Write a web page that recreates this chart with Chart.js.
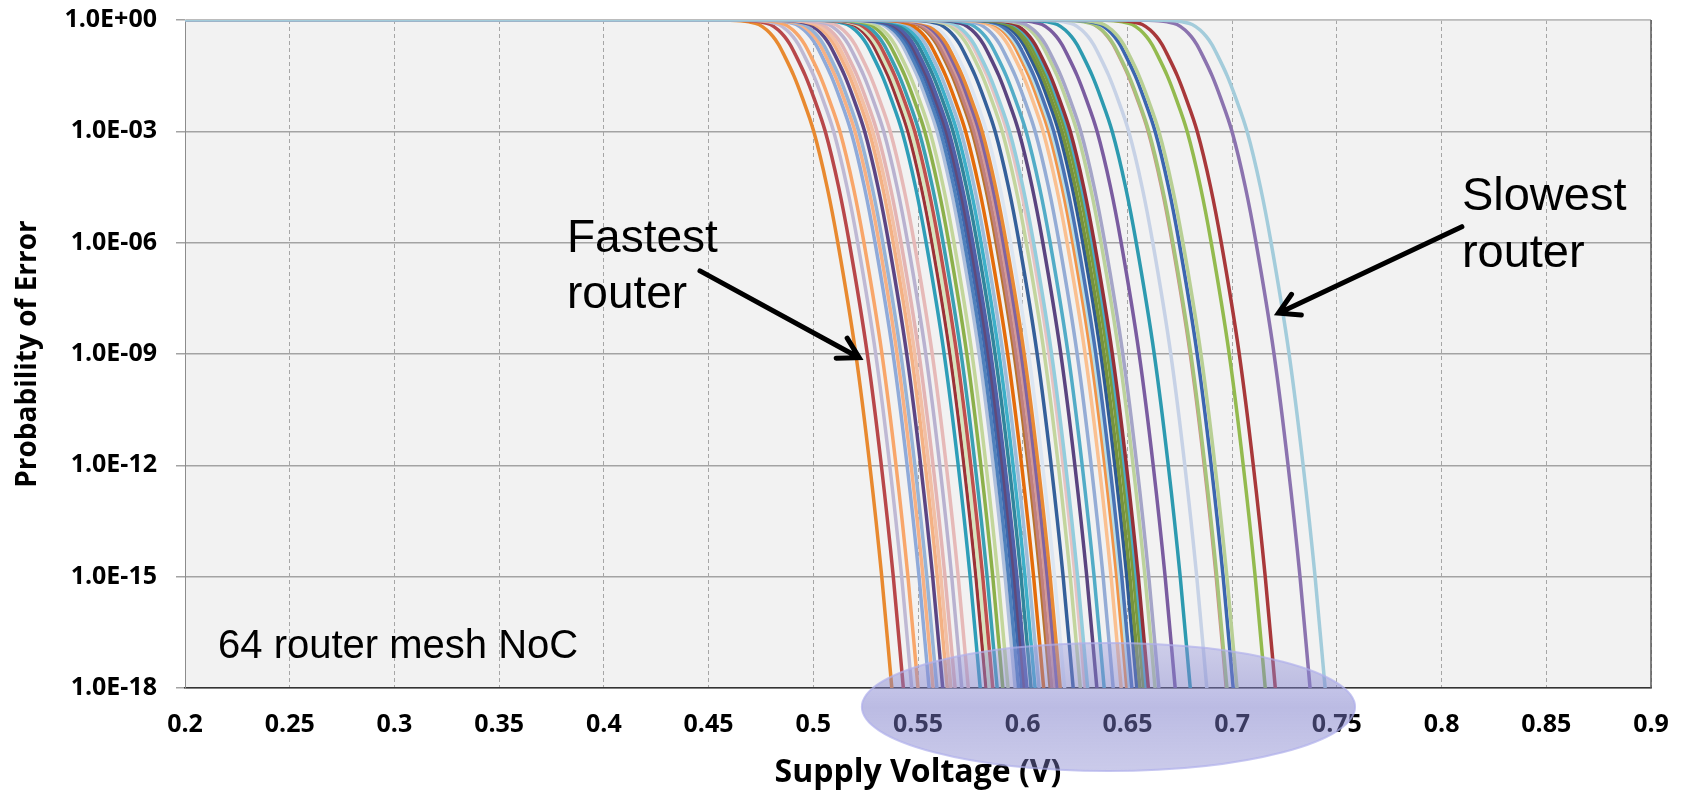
<!DOCTYPE html>
<html>
<head>
<meta charset="utf-8">
<title>Probability of Error vs Supply Voltage</title>
<script src="https://cdn.jsdelivr.net/npm/chart.js@4.4.1/dist/chart.umd.min.js"></script>
<style>
    html, body { margin: 0; padding: 0; background: #ffffff; }
    #wrap { width: 1684px; height: 795px; }
</style>
</head>
<body>
<div id="wrap"><canvas id="errorChart" width="1684" height="795"></canvas></div>
<script>
// axis ticks
const xTicks = [0.2, 0.25, 0.3, 0.35, 0.4, 0.45, 0.5, 0.55, 0.6, 0.65, 0.7, 0.75, 0.8, 0.85, 0.9];
const xTickLabels = ['0.2', '0.25', '0.3', '0.35', '0.4', '0.45', '0.5', '0.55', '0.6', '0.65', '0.7', '0.75', '0.8', '0.85', '0.9'];
const yTicks = [1e0, 1e-3, 1e-6, 1e-9, 1e-12, 1e-15, 1e-18];
const yTickLabels = ['1.0E+00', '1.0E-03', '1.0E-06', '1.0E-09', '1.0E-12', '1.0E-15', '1.0E-18'];

// fastest router curve (log10 of the error probability)
const fastestVoltage = [0.452, 0.460, 0.465, 0.469, 0.4737, 0.4775, 0.4805, 0.4830, 0.4858, 0.4904, 0.4945, 0.4999, 0.5063, 0.5114, 0.5200, 0.5267, 0.5324, 0.5372, 0.5405];
const fastestLogP    = [0, -0.005, -0.02, -0.05, -0.12, -0.27, -0.45, -0.65, -0.95, -1.5, -2.1, -3, -4.5, -6, -9, -12, -15, -18, -20];

// voltage where each of the 64 routers reaches 1E-18 (fastest first)
const crossAt18 = [
    0.5375, 0.5430, 0.5470, 0.5500, 0.5553, 0.5572, 0.5590, 0.5618, 0.5640, 0.5657,
    0.5677, 0.5709, 0.5740, 0.5797, 0.5825, 0.5840, 0.5857, 0.5878, 0.5905, 0.5930,
    0.5964, 0.5980, 0.5996, 0.6008, 0.6020, 0.6040, 0.6059, 0.6078, 0.6100, 0.6131,
    0.6140, 0.6155, 0.6165, 0.6179, 0.6200, 0.6241, 0.6275, 0.6298, 0.6310, 0.6354,
    0.6389, 0.6432, 0.6470, 0.6497, 0.6510, 0.6521, 0.6545, 0.6560, 0.6577, 0.6590,
    0.6600, 0.6632, 0.6650, 0.6728, 0.6800, 0.6879, 0.6967, 0.6975, 0.7005, 0.7023,
    0.7158, 0.7206, 0.7372, 0.7444
];

const lineColors = [
    '#E8892F', '#B8474A', '#BFB9D4', '#F8A66A', '#8FAAD9', '#F7B083', '#95B3D7', '#5C4584', '#F4B183', '#F2BFA5',
    '#E3B4B4', '#B9B2D0', '#E6B9B8', '#2E9EB8', '#9C3237', '#D7E4BD', '#C0504D', '#3AA0B3', '#8CB04A', '#C3D69B',
    '#B0C0DC', '#4F81BD', '#3E68AD', '#604A7B', '#5060A8', '#31859C', '#3DAFC8', '#A0BCD8', '#E46C0A', '#B8732E',
    '#C0807F', '#D39A98', '#8064A2', '#E88A35', '#DCE6F2', '#35609A', '#C3D59E', '#E6C3C2', '#93CDDD', '#5A4480',
    '#52ACC7', '#94ACD5', '#FAC090', '#F09448', '#B7DEE8', '#4A73B5', '#2E5A94', '#77933C', '#7A9A3C', '#4BACC6',
    '#953038', '#BCD29C', '#A5A5C8', '#7A5CA0', '#2D9AB0', '#C7D2E6', '#D09088', '#A6C47A', '#3B65B0', '#B8CF94',
    '#93BA4E', '#A8383A', '#8B73AF', '#A3CCDB'
];

const fastest18 = fastestVoltage[fastestLogP.indexOf(-18)];

const datasets = crossAt18.map(function (v18, i) {
    const shift = v18 - fastest18;
    const points = [{ x: xTicks[0], y: 1 }];
    fastestVoltage.forEach(function (v, k) {
        points.push({ x: v + shift, y: Math.pow(10, fastestLogP[k]) });
    });
    return {
        label: 'Router ' + (i + 1),
        data: points,
        order: crossAt18.length - i,   // later series drawn on top, like the spreadsheet
        borderColor: lineColors[i],
        borderWidth: i === 56 ? 1.5 : 3.5,
        pointRadius: 0,
        pointHoverRadius: 0,
        fill: false,
        cubicInterpolationMode: 'monotone'
    };
});

// callouts, placed in data units
const notes = [
    { lines: ['Fastest', 'router'], x: 0.3824, logp: -6.25, size: 46 },
    { lines: ['Slowest', 'router'], x: 0.8097, logp: -5.12, size: 47 },
    { lines: ['64 router mesh NoC'], x: 0.2158, logp: -17.19, size: 40 }
];
const arrows = [
    { from: [0.4459, -6.76], to: [0.5219, -9.1] },
    { from: [0.8097, -5.57], to: [0.7221, -7.9] }
];

const plotBackground = {
    id: 'plotBackground',
    beforeDraw(chart) {
        const { ctx, chartArea: a } = chart;
        ctx.save();
        ctx.fillStyle = '#F2F2F2';
        ctx.fillRect(a.left, a.top, a.right - a.left, a.bottom - a.top);
        ctx.restore();
    },
    beforeDatasetsDraw(chart) {
        const { ctx, chartArea: a } = chart;
        ctx.save();
        ctx.strokeStyle = '#C4C4C4';
        ctx.lineWidth = 1.5;
        ctx.beginPath();
        ctx.moveTo(a.left, a.top);
        ctx.lineTo(a.right, a.top);
        ctx.stroke();
        ctx.restore();
    }
};

const callouts = {
    id: 'callouts',
    afterDraw(chart) {
        const { ctx, chartArea: a } = chart;
        const xs = chart.scales.x;
        const ys = chart.scales.y;
        ctx.save();

        // right frame
        ctx.strokeStyle = '#595959';
        ctx.lineWidth = 1.5;
        ctx.beginPath();
        ctx.moveTo(a.right, a.top);
        ctx.lineTo(a.right, a.bottom);
        ctx.stroke();

        ctx.fillStyle = '#000000';
        ctx.textAlign = 'left';
        ctx.textBaseline = 'alphabetic';
        notes.forEach(function (n) {
            ctx.font = n.size + 'px "Liberation Sans", Arial, sans-serif';
            const px = xs.getPixelForValue(n.x);
            const py = ys.getPixelForValue(Math.pow(10, n.logp));
            n.lines.forEach(function (t, k) {
                ctx.fillText(t, px, py + k * 56.5);
            });
        });

        ctx.strokeStyle = '#000000';
        ctx.lineWidth = 5;
        ctx.lineCap = 'round';
        arrows.forEach(function (ar) {
            const x1 = xs.getPixelForValue(ar.from[0]);
            const y1 = ys.getPixelForValue(Math.pow(10, ar.from[1]));
            const x2 = xs.getPixelForValue(ar.to[0]);
            const y2 = ys.getPixelForValue(Math.pow(10, ar.to[1]));
            const ang = Math.atan2(y2 - y1, x2 - x1);
            const head = 23;
            ctx.beginPath();
            ctx.moveTo(x1, y1);
            ctx.lineTo(x2, y2);
            ctx.moveTo(x2 - head * Math.cos(ang - Math.PI / 6), y2 - head * Math.sin(ang - Math.PI / 6));
            ctx.lineTo(x2, y2);
            ctx.lineTo(x2 - head * Math.cos(ang + Math.PI / 6), y2 - head * Math.sin(ang + Math.PI / 6));
            ctx.stroke();
        });

        // highlight ellipse over the spread of 1E-18 crossings
        const left = xs.getPixelForValue(0.5232);
        const right = xs.getPixelForValue(0.7587);
        const cx = (left + right) / 2;
        const rx = (right - left) / 2;
        const cy = a.bottom + 19;
        const ry = 64;
        const grad = ctx.createLinearGradient(0, cy - ry, 0, cy + ry);
        grad.addColorStop(0, 'rgba(150,150,220,0.40)');
        grad.addColorStop(0.5, 'rgba(120,120,200,0.50)');
        grad.addColorStop(1, 'rgba(130,130,205,0.42)');
        ctx.fillStyle = grad;
        ctx.beginPath();
        ctx.ellipse(cx, cy, rx, ry, 0, 0, Math.PI * 2);
        ctx.fill();
        ctx.strokeStyle = 'rgba(175,175,235,0.7)';
        ctx.lineWidth = 2;
        ctx.stroke();

        ctx.restore();
    }
};

const ctx = document.getElementById('errorChart').getContext('2d');
const errorChart = new Chart(ctx, {
    type: 'line',
    data: { datasets: datasets },
    options: {
        responsive: false,
        animation: false,
        devicePixelRatio: 1,
        layout: { autoPadding: false, padding: { left: 0, top: 20, right: 33, bottom: 0 } },
        plugins: {
            legend: { display: false },
            tooltip: { enabled: false }
        },
        scales: {
            x: {
                type: 'linear',
                min: 0.2,
                max: 0.9,
                afterBuildTicks: function (scale) {
                    scale.ticks = xTicks.map(function (v) { return { value: v }; });
                },
                afterFit: function (scale) {
                    scale.height = 107;
                    scale.paddingLeft = 0;
                    scale.paddingRight = 0;
                },
                ticks: {
                    autoSkip: false,
                    maxRotation: 0,
                    padding: 22,
                    color: '#000000',
                    font: { family: '"Open Sans", sans-serif', size: 25, weight: 'bold' },
                    callback: function (value, index) { return xTickLabels[index]; }
                },
                grid: { color: '#A6A6A6', lineWidth: 1, drawTicks: false },
                border: { color: '#333333', width: 1.5, dash: [4, 3] },
                title: {
                    display: true,
                    text: 'Supply Voltage (V)',
                    color: '#000000',
                    padding: { top: 0, bottom: 3 },
                    font: { family: '"Open Sans", sans-serif', size: 32, weight: 'bold' }
                }
            },
            y: {
                type: 'logarithmic',
                min: 1e-18,
                max: 1,
                afterBuildTicks: function (scale) {
                    scale.ticks = yTicks.map(function (v) { return { value: v }; });
                },
                afterFit: function (scale) {
                    scale.width = 185;
                    scale.paddingTop = 0;
                    scale.paddingBottom = 0;
                },
                ticks: {
                    autoSkip: false,
                    padding: 19,
                    color: '#000000',
                    font: { family: '"Open Sans", sans-serif', size: 25, weight: 'bold' },
                    callback: function (value, index) { return yTickLabels[index]; }
                },
                grid: { color: '#A3A3A3', lineWidth: 1.5, tickLength: 9 },
                border: { color: '#8C8C8C', width: 1 },
                title: {
                    display: true,
                    text: 'Probability of Error',
                    color: '#000000',
                    padding: { top: 11, bottom: 0 },
                    font: { family: '"Open Sans", sans-serif', size: 28, weight: 'bold' }
                }
            }
        }
    },
    plugins: [plotBackground, callouts]
});
</script>
</body>
</html>
